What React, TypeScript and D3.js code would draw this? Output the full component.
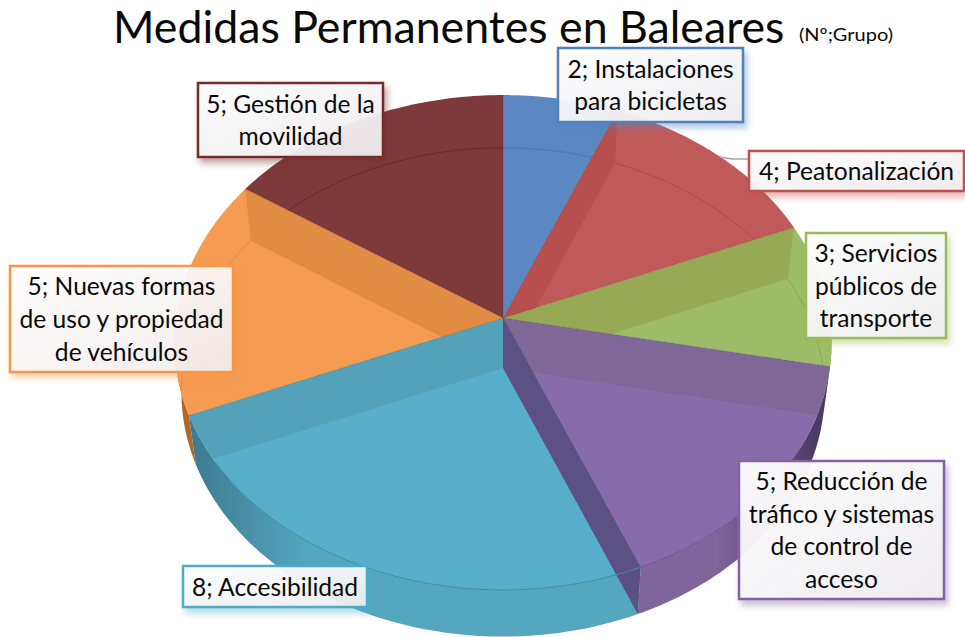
import React from "react";
import * as d3 from "d3";

// ---- data ----
const categories = [
  "Instalaciones para bicicletas",
  "Peatonalización",
  "Servicios públicos de transporte",
  "Reducción de tráfico y sistemas de control de acceso",
  "Accesibilidad",
  "Nuevas formas de uso y propiedad de vehículos",
  "Gestión de la movilidad",
];
const values = [2, 4, 3, 5, 8, 5, 5];
const labelLines = [
  ["2; Instalaciones", "para bicicletas"],
  ["4; Peatonalización"],
  ["3; Servicios", "públicos de", "transporte"],
  ["5; Reducción de", "tráfico y sistemas", "de control de", "acceso"],
  ["8; Accesibilidad"],
  ["5; Nuevas formas", "de uso y propiedad", "de vehículos"],
  ["5; Gestión de la", "movilidad"],
];
const topColors = ["#5b88c2", "#c05a58", "#9dbc67", "#876ca9", "#57aeca", "#f59b52", "#7e3a3a"];
const bandColors = ["#5b88c2", "#b84f4f", "#98a955", "#7f6898", "#54a2b9", "#e28b42", "#7e3a3a"];
const arcColors = ["#4d78ad", "#a84a4a", "#8ba558", "#7a6296", "#3f8fa8", "#e08a45", "#642b2b"];
const wallLight = ["#5b88c2", "#c05a58", "#9dbc67", "#7f6599", "#55a7c0", "#d98a40", "#7e3a3a"];
const wallDark = ["#3f5f88", "#8a3f3f", "#6f8548", "#46365e", "#3a7489", "#a8662a", "#5a2a2a"];
const borderColors = ["#4f81bd", "#c0504d", "#9bbb59", "#8064a2", "#4bacc6", "#f79646", "#772c2a"];

// ---- layout ----
const W = 965;
const H = 637;
const apexTop: [number, number] = [503, 318];
const apexBottom: [number, number] = [503, 368];
const K = 0.099;
const boxes = [
  [558, 48, 743, 122],
  [749, 151, 964, 191],
  [806, 233, 946, 338],
  [739, 461, 944, 599],
  [183, 566, 367, 607],
  [10, 266, 233, 372],
  [198, 83, 383, 157],
];

type P = [number, number];
const project = (apex: P, a: number, b: number) => (t: number): P => {
  const u = Math.sin(t);
  const v = -Math.cos(t);
  const w = 1 - K * v;
  return [apex[0] + (a * u) / w, apex[1] + (b * v) / w];
};
const rimTop = project(apexTop, 327, 245);
const rimBottom = project(apexBottom, 320, 242);

const line = d3.line<P>().x((d) => d[0]).y((d) => d[1]);
const arcPts = (rim: (t: number) => P, t0: number, t1: number): P[] =>
  d3.range(0, 61).map((i) => rim(t0 + ((t1 - t0) * i) / 60));

const pieData = d3.pie<number>().sort(null).value((d) => d)(values);

export default function App() {
  return (
    <svg
      width={W}
      height={H}
      viewBox={`0 0 ${W} ${H}`}
      style={{ position: "absolute", left: 0, top: 0, display: "block", background: "#fff" }}
      fontFamily="Lato, Carlito, sans-serif"
    >
      <defs>
        {pieData.map((d, i) => (
          <clipPath id={`face${i}`} key={i}>
            <path d={line([apexTop, ...arcPts(rimTop, d.startAngle, d.endAngle)])! + "Z"} />
          </clipPath>
        ))}
        {pieData.map((d, i) => (
          <linearGradient
            id={`wall${i}`}
            key={i}
            gradientUnits="userSpaceOnUse"
            x1={i === 3 ? 830 : 175}
            x2={i === 3 ? 640 : 400}
            y1={0}
            y2={0}
          >
            <stop offset="0" stopColor={wallDark[i]} />
            <stop offset="0.6" stopColor={wallLight[i]} />
            <stop offset="1" stopColor={wallLight[i]} />
          </linearGradient>
        ))}
        <linearGradient id="boxFill" x1="0" y1="0" x2="1" y2="1">
          <stop offset="0" stopColor="#ffffff" stopOpacity={0.95} />
          <stop offset="1" stopColor="#f1eff1" stopOpacity={0.9} />
        </linearGradient>
        {borderColors.map((c, i) => (
          <filter id={`sh${i}`} key={i} x="-20%" y="-30%" width="140%" height="160%">
            <feDropShadow dx="3" dy="5" stdDeviation="3" floodColor={c} floodOpacity="0.45" />
          </filter>
        ))}
      </defs>

      {/* outer walls */}
      {pieData.map((d, i) => {
        const a0 = Math.max(d.startAngle, Math.PI / 2);
        const a1 = Math.min(d.endAngle, (Math.PI * 3) / 2 + 0.2);
        if (a1 <= a0) return null;
        return (
          <path
            key={i}
            fill={`url(#wall${i})`}
            d={line([...arcPts(rimTop, a0, a1), ...arcPts(rimBottom, a1, a0)])! + "Z"}
          />
        );
      })}

      {/* top faces */}
      {pieData.map((d, i) => (
        <path
          key={i}
          fill={topColors[i]}
          d={line([apexTop, ...arcPts(rimTop, d.startAngle, d.endAngle)])! + "Z"}
        />
      ))}

      {/* back walls seen through the faces */}
      {pieData.map((d, i) => {
        const bandAngle = i === 5 ? d.endAngle : i === 4 ? d.endAngle : d.startAngle;
        if (i === 0 || i === 6) return null;
        return (
          <g key={i} clipPath={`url(#face${i})`}>
            <path
              fill={bandColors[i]}
              d={line([apexTop, rimTop(bandAngle), rimBottom(bandAngle), apexBottom])! + "Z"}
            />
          </g>
        );
      })}

      {/* lower rim seen through the faces */}
      {pieData.map((d, i) => (
        <g key={i} clipPath={`url(#face${i})`}>
          <path
            fill="none"
            stroke={arcColors[i]}
            strokeWidth={1}
            d={line(arcPts(rimBottom, d.startAngle, d.endAngle))!}
          />
        </g>
      ))}

      {/* front rim of the faces */}
      {pieData.map((d, i) =>
        i === 3 || i === 4 ? (
          <path
            key={i}
            fill="none"
            stroke={i === 3 ? "#6c5590" : "#3e8ba6"}
            strokeWidth={1}
            d={line(arcPts(rimTop, i === 3 ? Math.max(d.startAngle, 2.1) : d.startAngle, d.endAngle - (i === 4 ? 0.2 : 0)))!}
          />
        ) : null
      )}

      {/* end wall of the purple slice */}
      {(() => {
        const t = pieData[3].endAngle;
        return (
          <path
            fill="#5c4d80"
            fillOpacity={0.97}
            d={line([apexTop, rimTop(t), rimBottom(t), apexBottom])! + "Z"}
          />
        );
      })()}
      <path
        fill="none"
        stroke="#4d8fa8"
        strokeWidth={1}
        d={line(arcPts(rimTop, pieData[4].startAngle, pieData[4].startAngle + 0.12))!}
      />

      {/* slice edges */}
      {pieData.map((d, i) => (
        <path
          key={i}
          fill="none"
          stroke="#000"
          strokeOpacity={0.18}
          strokeWidth={0.8}
          d={line([apexTop, rimTop(d.startAngle)])!}
        />
      ))}

      {/* leader line */}
      <path d="M720 157 L732 159 L749 159" fill="none" stroke="#a6a6a6" strokeWidth={1.5} />

      {/* labels */}
      {labelLines.map((lines, i) => {
        const [x0, y0, x1, y1] = boxes[i];
        const lh = 32.6;
        const cy = (y0 + y1) / 2;
        return (
          <g key={categories[i]}>
            <rect
              x={x0}
              y={y0}
              width={x1 - x0}
              height={y1 - y0}
              fill="url(#boxFill)"
              stroke={borderColors[i]}
              strokeWidth={2.5}
              filter={`url(#sh${i})`}
            />
            {lines.map((s, j) => (
              <text
                key={j}
                x={(x0 + x1) / 2}
                y={cy + (j - (lines.length - 1) / 2) * lh + 9}
                textAnchor="middle"
                fontSize={24.6}
                fill="#0a0a0a"
              >
                {s}
              </text>
            ))}
          </g>
        );
      })}

      {/* title */}
      <text x={113} y={43} fontSize={44.7} fill="#0a0a0a">
        Medidas Permanentes en Baleares
      </text>
      <text x={799} y={41} fontSize={18} textLength={94} lengthAdjust="spacingAndGlyphs" fill="#0a0a0a">
        (Nº;Grupo)
      </text>
    </svg>
  );
}
